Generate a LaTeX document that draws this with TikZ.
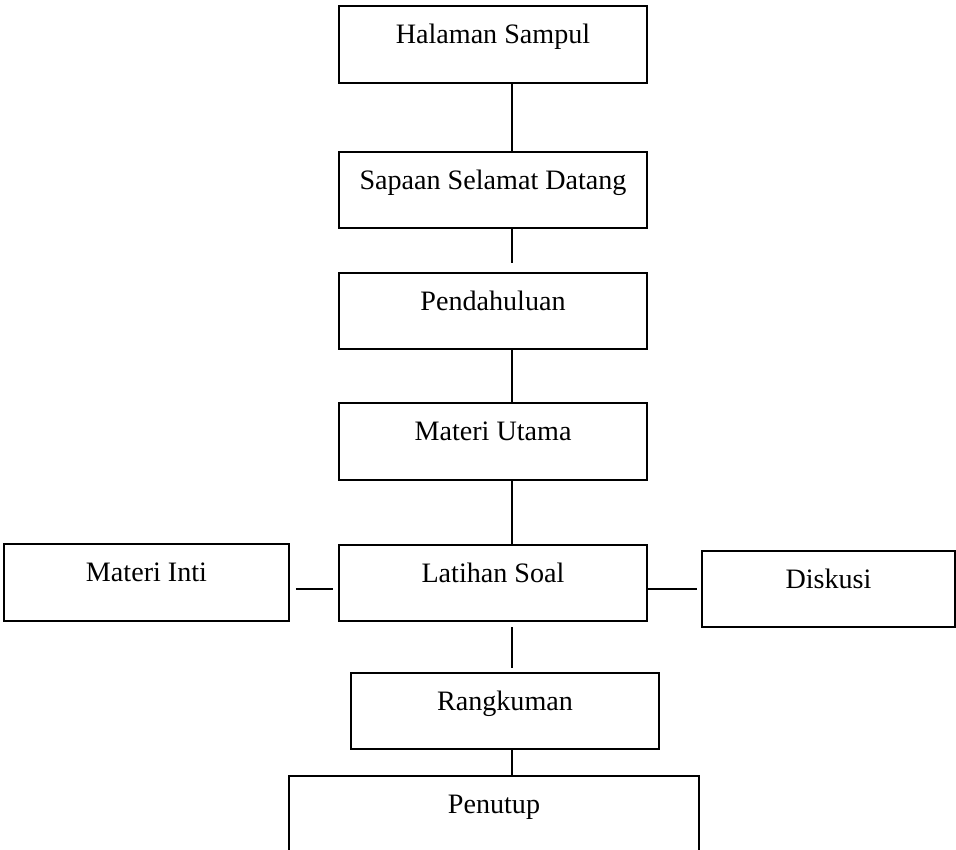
\documentclass[tikz,border=0pt]{standalone}
\usepackage{fontspec}
\setmainfont{Liberation Serif}
\usetikzlibrary{positioning}
\tikzset{
  box/.style={draw, line width=1pt, align=center, font=\fontsize{16}{19}\selectfont, minimum width=6.16cm, minimum height=1.53cm, inner ysep=0.2cm, text height=0.55cm, text depth=0.58cm, fill=white},
  conn/.style={line width=1pt}}

\begin{document}
\begin{tikzpicture}
  \useasboundingbox (0,0) rectangle (19.12,-16.98);
  \clip (0,0) rectangle (19.12,-16.98);
  \foreach \n/\t/\y in {sampul/{Halaman Sampul}/-0.89, sapaan/{Sapaan Selamat Datang}/-3.80, pendahuluan/Pendahuluan/-6.22, utama/{Materi Utama}/-8.83, latihan/{Latihan Soal}/-11.66} {
    \node[box] (\n) at (9.86, \y) {\t};
  }
  \node[box, minimum width=5.70cm] (inti) at (2.93, -11.65) {Materi Inti};
  \node[box, minimum width=5.06cm] (diskusi) at (16.57, -11.78) {Diskusi};
  \node[box] (rangkuman) at (10.10, -14.22) {Rangkuman};
  \node[box, minimum width=8.20cm] (penutup) at (9.88, -16.29) {Penutup};
  \coordinate (spine) at (10.24, 0);
  \coordinate (rail) at (0, -11.78);
  \draw[conn] (sampul.south -| spine) -- (sapaan.north -| spine);
  \draw[conn, shorten >=0.18cm] (sapaan.south -| spine) -- (pendahuluan.north -| spine);
  \draw[conn] (pendahuluan.south -| spine) -- (utama.north -| spine);
  \draw[conn] (utama.south -| spine) -- (latihan.north -| spine);
  \draw[conn, shorten <=0.1cm, shorten >=0.08cm] (latihan.south -| spine) -- (rangkuman.north -| spine);
  \draw[conn] (rangkuman.south -| spine) -- (penutup.north -| spine);
  \draw[conn, shorten <=0.12cm, shorten >=0.1cm] (inti.east |- rail) -- (latihan.west |- rail);
  \draw[conn, shorten >=0.08cm] (latihan.east |- rail) -- (diskusi.west |- rail);
\end{tikzpicture}
\end{document}
